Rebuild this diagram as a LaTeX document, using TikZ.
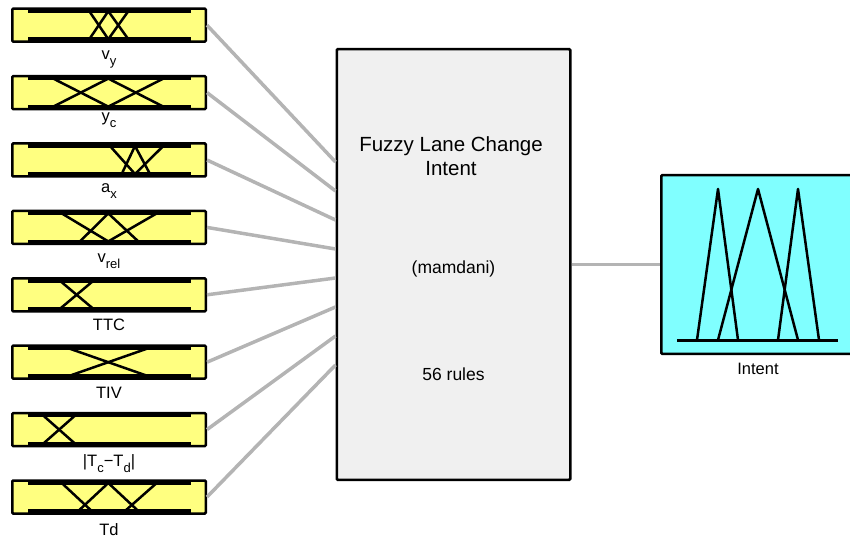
\documentclass[tikz,border=0pt]{standalone}
\usepackage{fontspec}
\setmainfont{Liberation Sans}
\usepackage{xcolor}

\definecolor{mfyellow}{RGB}{255,255,128}
\definecolor{mfcyan}{RGB}{128,255,255}
\definecolor{fisgray}{RGB}{240,240,240}
\definecolor{linkgray}{RGB}{180,180,180}

% lowered subscript, as in the plot labels
\newcommand\lsub[1]{\raisebox{-6pt}{\fontsize{13}{13}\selectfont #1}}

\tikzset{
  inbox/.style={draw, line width=2.5pt, fill=mfyellow, rounded corners=1pt,
    minimum width=193.5pt, minimum height=33pt, inner sep=0pt},
  outbox/.style={draw, line width=2.5pt, fill=mfcyan, rounded corners=1pt,
    minimum width=193.5pt, minimum height=178.5pt, inner sep=0pt},
  fisbox/.style={draw, line width=2.5pt, fill=fisgray, rounded corners=1pt,
    minimum width=233.5pt, minimum height=430.5pt, inner sep=0pt},
  varlabel/.style={anchor=base, inner sep=0pt, font=\fontsize{16.5}{18}\selectfont},
  fistext/.style={anchor=base, inner sep=0pt, font=\fontsize{17.5}{20}\selectfont},
  link/.style={linkgray, line width=3.5pt},
  mf/.style={line width=2.5pt, line join=round},
  rangeline/.style={line width=3.5pt},
}

\begin{document}
\begin{tikzpicture}[x=1pt, y=-1pt]
  \clip (0,0) rectangle (850,537);

  % input variables
  \node[inbox] (vy)   at (109,25.2)  {};
  \node[inbox] (yc)   at (109,92.6)  {};
  \node[inbox] (ax)   at (109,160)   {};
  \node[inbox] (vrel) at (109,227.4) {};
  \node[inbox] (ttc)  at (109,294.8) {};
  \node[inbox] (tiv)  at (109,362.2) {};
  \node[inbox] (tctd) at (109,429.6) {};
  \node[inbox] (td)   at (109,497)   {};

  \node[varlabel] (vy-lab)   at (109,60)  {v\lsub{y}};
  \node[varlabel] (yc-lab)   at (109,122) {y\lsub{c}};
  \node[varlabel] (ax-lab)   at (109,193) {a\lsub{x}};
  \node[varlabel] (vrel-lab) at (109,262) {v\lsub{rel}};
  \node[varlabel] (ttc-lab)  at (109,330) {TTC};
  \node[varlabel] (tiv-lab)  at (109,398) {TIV};
  \node[varlabel] (tctd-lab) at (109,466) {|T\lsub{c}−T\lsub{d}|};
  \node[varlabel] (td-lab)   at (109,535) {Td};

  % range lines in every input box
  \foreach \n in {vy,yc,ax,vrel,ttc,tiv,tctd,td}{
    \begin{scope}[shift={(\n.center)}]
      \draw[rangeline] (-81,-14) -- (82,-14) (-81,14) -- (82,14);
    \end{scope}
  }

  % membership functions
  \begin{scope}[shift={(vy.center)}]
    \draw[mf] (-19.7,-14) -- (-0.7,14);
    \draw[mf] (-19.7,14) -- (-0.7,-14) -- (19.3,14);
    \draw[mf] (-0.7,14) -- (19.3,-14);
  \end{scope}
  \begin{scope}[shift={(yc.center)}]
    \draw[mf] (-55.7,-14) -- (-0.7,14);
    \draw[mf] (-55.7,14) -- (-0.7,-14) -- (54.3,14);
    \draw[mf] (-0.7,14) -- (54.3,-14);
  \end{scope}
  \begin{scope}[shift={(ax.center)}]
    \draw[mf] (1,-14) -- (26,14);
    \draw[mf] (12.7,14) -- (26,-14) -- (41,14);
    \draw[mf] (26,14) -- (54.3,-14);
  \end{scope}
  \begin{scope}[shift={(vrel.center)}]
    \draw[mf] (-47.3,-14) -- (-0.7,14);
    \draw[mf] (-29,14) -- (-0.7,-14) -- (29.3,14);
    \draw[mf] (-0.7,14) -- (47.7,-14);
  \end{scope}
  \begin{scope}[shift={(ttc.center)}]
    \draw[mf] (-49,-14) -- (-15.7,14);
    \draw[mf] (-49,14) -- (-15.7,-14);
  \end{scope}
  \begin{scope}[shift={(tiv.center)}]
    \draw[mf] (-40.7,-14) -- (39.3,14);
    \draw[mf] (-40.7,14) -- (39.3,-14);
  \end{scope}
  \begin{scope}[shift={(tctd.center)}]
    \draw[mf] (-65.7,-14) -- (-34,14);
    \draw[mf] (-65.7,14) -- (-34,-14);
  \end{scope}
  \begin{scope}[shift={(td.center)}]
    \draw[mf] (-47.3,-14) -- (-17.3,14);
    \draw[mf] (-30.7,14) -- (-0.7,-14) -- (29.3,14);
    \draw[mf] (16,14) -- (47.7,-14);
  \end{scope}

  % inference system
  \node[fisbox] (fis) at (453.5,264.5) {};
  \node[anchor=base, inner sep=0pt, align=center, font=\fontsize{20.5}{24}\selectfont]
    (fis-name) at (451,176) {Fuzzy Lane Change\\Intent};
  \node[fistext] (fis-type) at (453.5,273) {(mamdani)};
  \node[fistext] (fis-rules) at (453.5,380) {56 rules};

  % output variable
  \node[outbox] (intent) at (758,264.5) {};
  \node[varlabel] (intent-lab) at (758,374) {Intent};
  \begin{scope}[shift={(intent.west)}]
    \draw[rangeline, line width=3pt] (17,75.5) -- (178,75.5);
    \draw[mf] (37,75.5) -- (58,-75.5) -- (78,75.5);
    \draw[mf] (58,75.5) -- (98,-75.5) -- (138,75.5);
    \draw[mf] (118,75.5) -- (138,-75.5) -- (159,75.5);
  \end{scope}

  % connectors
  \foreach \n [count=\i from 0] in {vy,yc,ax,vrel,ttc,tiv,tctd,td}{
    \pgfmathsetmacro\yy{162+29*\i}
    \draw[link] (\n.east) -- (fis.west |- 0,\yy);
  }
  \draw[link] (fis.east) -- (intent.west);
\end{tikzpicture}
\end{document}
